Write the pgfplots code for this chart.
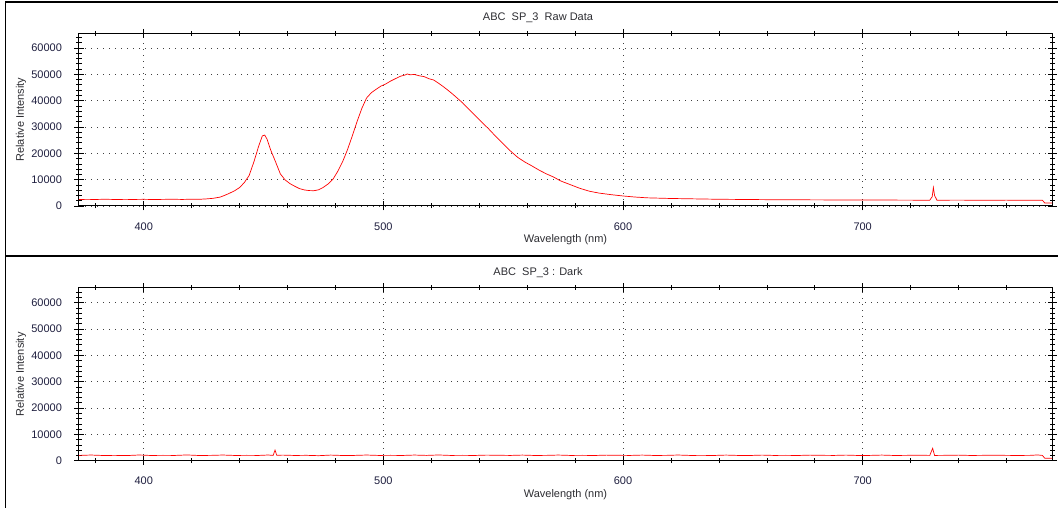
\documentclass[border=0pt]{standalone}
\usepackage{pgfplots}
\pgfplotsset{compat=1.18}
\usepackage{fontspec}
\setmainfont{Liberation Sans}
\definecolor{ticktxt}{RGB}{30,30,62}
\definecolor{labtxt}{RGB}{45,45,50}
\pgfplotstableread{
x y
373 2450
376 2520
380 2480
384 2560
388 2470
392 2510
396 2490
400 2530
404 2470
408 2510
412 2560
416 2490
420 2570
423 2540
426 2680
429 2920
432 3400
435 4500
438 5800
440 7000
442 8900
444 11600
446 16800
448 22800
449.5 26600
450.5 26900
451.5 25300
453 21200
455 16800
457 12200
459 9900
461 8500
463 7500
465 6600
467 6100
469 5850
471 5800
473 6150
475 7100
477 8400
479 10200
481 13200
483 16800
485 21300
487 26500
489 32000
491 37000
493 41000
495 43000
497 44300
499 45500
501 46300
503 47400
505 48300
507 49200
509 49700
510 50100
511 49800
513 49900
515 49400
517 49100
519 48300
521 47800
523 46600
525 45300
527 43900
529 42400
531 40800
533 39200
535 37300
538 34600
541 31900
544 29200
547 26300
550 23600
553 20900
556 18500
559 16700
562 15200
565 13600
568 12200
571 11000
574 9500
578 8100
582 6700
586 5600
590 4900
595 4300
600 3800
605 3400
610 3100
620 2850
630 2700
640 2550
650 2480
660 2400
670 2380
680 2320
690 2300
700 2260
710 2250
720 2220
728 2200
729 3500
729.5 7000
730 4000
731 2200
740 2230
750 2180
760 2220
770 2160
775 2170
776 1100
779 1100
}\rawdata
\pgfplotstableread{
x y
373 2000
378 2150
383 1980
388 2020
393 1950
398 2160
403 1990
408 2030
413 2000
418 2180
423 1980
428 2020
433 2150
438 1990
443 2030
448 2000
452 2160
454 2000
454.8 4000
455.5 2050
458 2120
463 1990
468 2040
473 1900
478 2130
483 1980
488 2010
493 2150
498 2000
503 2030
508 1990
513 2140
518 2010
523 2170
528 2000
533 2030
538 1990
543 2120
548 2060
553 2000
558 2130
563 1990
568 2020
573 2140
578 2000
583 2030
588 1980
593 2110
598 2040
603 2000
608 2130
613 1990
618 2020
623 2150
628 2000
633 2020
638 1990
643 2130
648 2000
653 1980
658 2120
663 2000
668 2030
673 1980
678 2110
683 2040
688 2000
693 2120
698 1990
703 2010
708 2130
713 1990
718 2020
723 2100
728 2010
729.2 4700
730 2000
735 2040
740 2110
745 1990
750 2030
755 2100
760 2020
765 1990
770 2030
773 2180
775 2000
776 900
779 900
}\darkdata
\pgfplotsset{
  specaxis/.style={
    scale only axis, width=973pt, height=172.7pt,
    xmin=373, xmax=779, ymin=0, ymax=65535,
    xtick={400,500,600,700},
    ytick={0,10000,...,60000},
    minor xtick={380,400,...,760},
    minor ytick={0,2000,...,64000},
    scaled y ticks=false,
    /pgf/number format/.cd, fixed, 1000 sep={}, assume math mode=true, /pgfplots/.cd,
    grid=major,
    major grid style={black!75, dash pattern=on 1pt off 5pt, line width=0.6pt},
    tick align=center,
    major tick length=9pt, minor tick length=5pt,
    every tick/.style={black, line width=0.6pt},
    axis line style={black, line width=1pt},
    tick label style={font=\fontsize{11}{13}\selectfont, text=ticktxt},
    yticklabel style={anchor=east, xshift=-9pt},
    xticklabel style={anchor=center, yshift=-16pt},
    label style={font=\fontsize{11}{13}\selectfont, text=labtxt},
    xlabel={Wavelength (nm)},
    ylabel={Relative Intensity},
    xlabel style={at={(axis description cs:0.5,0)}, anchor=center, yshift=-34pt},
    ylabel style={at={(axis description cs:0,0.5)}, anchor=center, rotate=0, yshift=58pt},
  }
}
\begin{document}
\begin{tikzpicture}[x=1pt,y=1pt]
\path[use as bounding box] (0,0) rectangle (1058,508);
\draw[line width=1.4pt] (5.5,0) -- (5.5,506) -- (1058,506);
\draw[line width=2pt] (5.5,251.5) -- (1058,251.5);
\node[font=\fontsize{11}{13}\selectfont, text=labtxt] at (538,490) {ABC\ \ SP\_3\ \ Raw Data};
\node[font=\fontsize{11}{13}\selectfont, text=labtxt] at (538,235) {ABC\ \ SP\_3 : Dark};
\begin{axis}[specaxis, at={(79pt,302pt)}, anchor=south west]
\addplot[red, line width=0.7pt, mark=none] table[x=x,y=y] {\rawdata};
\end{axis}
\begin{axis}[specaxis, at={(79pt,47.3pt)}, anchor=south west]
\addplot[red, line width=0.7pt, mark=none] table[x=x,y=y] {\darkdata};
\end{axis}
\end{tikzpicture}
\end{document}
